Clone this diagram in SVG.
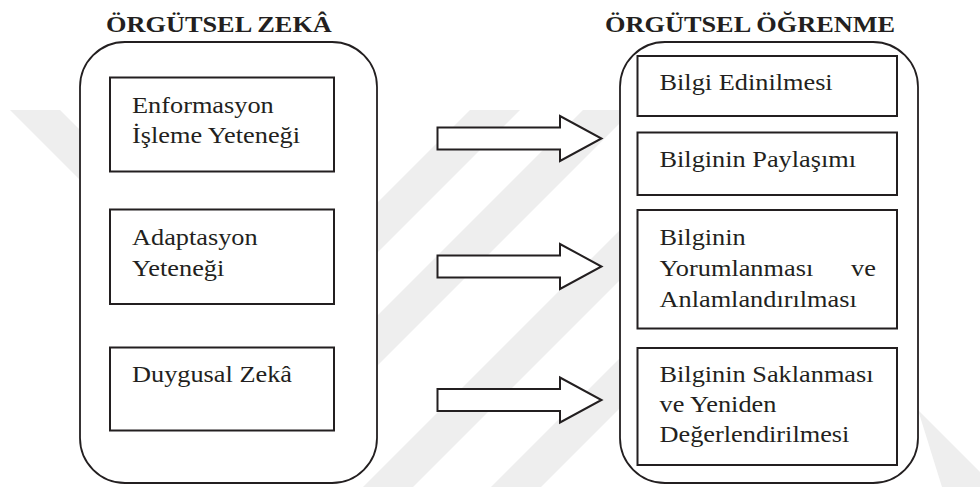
<svg xmlns="http://www.w3.org/2000/svg" width="980" height="487" viewBox="0 0 980 487">
<style>
.wm{fill:#eeeeee;stroke:none}
.cont{fill:#ffffff;stroke:#231f20;stroke-width:1.8}
.box{fill:#ffffff;stroke:#231f20;stroke-width:2}
.arrow{fill:#ffffff;stroke:#231f20;stroke-width:2;stroke-linejoin:miter}
text{font-family:'Liberation Serif','Times New Roman',Times,serif;font-size:22.5px;fill:#231f20}
.h{font-weight:bold}
</style>
<rect width="980" height="487" fill="#ffffff"/>
<g id="watermark">
<polygon class="wm" points="10,110 60,110 80,130 80,180"/>
<polygon class="wm" points="470,110 520,110 360,270 310,270"/>
<polygon class="wm" points="583,110 633,110 376,367 326,367"/>
<polygon class="wm" points="740,110 790,110 400,500 350,500"/>
<polygon class="wm" points="868,110 918,110 541,487 491,487"/>
<polygon class="wm" points="918,410 980,472 980,487 942,487"/>
</g>
<g id="title-left"><text class="h" font-family="Liberation Serif, serif" transform="translate(106 32) scale(1.17 1)">ÖRGÜTSEL ZEKÂ</text></g>
<g id="title-right"><text class="h" font-family="Liberation Serif, serif" transform="translate(605 32) scale(1.17 1)">ÖRGÜTSEL ÖĞRENME</text></g>
<g id="container-left"><rect class="cont" x="80" y="42" width="297" height="441" rx="45" ry="45"/></g>
<g id="container-right"><rect class="cont" x="620" y="42" width="298" height="441" rx="45" ry="45"/></g>
<g id="node-enformasyon">
<rect class="box" x="110" y="77.5" width="224" height="94"/>
<text transform="translate(132 113) scale(1.17 1)">Enformasyon</text>
<text transform="translate(132 143) scale(1.17 1)">İşleme Yeteneği</text>
</g>
<g id="node-adaptasyon">
<rect class="box" x="110" y="209.5" width="224" height="94.5"/>
<text transform="translate(132 245) scale(1.17 1)">Adaptasyon</text>
<text transform="translate(132 276) scale(1.17 1)">Yeteneği</text>
</g>
<g id="node-duygusal">
<rect class="box" x="110" y="347.5" width="224" height="83"/>
<text transform="translate(132 382) scale(1.17 1)">Duygusal Zekâ</text>
</g>
<g id="node-edinme">
<rect class="box" x="637.5" y="56" width="259.5" height="60"/>
<text transform="translate(659.5 90) scale(1.17 1)">Bilgi Edinilmesi</text>
</g>
<g id="node-paylasim">
<rect class="box" x="637.5" y="132.5" width="259.5" height="62.5"/>
<text transform="translate(659.5 166.5) scale(1.17 1)">Bilginin Paylaşımı</text>
</g>
<g id="node-yorumlama">
<rect class="box" x="637.5" y="210" width="259.5" height="118.5"/>
<text transform="translate(659.5 245) scale(1.17 1)">Bilginin</text>
<text transform="translate(659.5 276) scale(1.17 1)">Yorumlanması<tspan x="163.7">ve</tspan></text>
<text transform="translate(659.5 306.5) scale(1.17 1)">Anlamlandırılması</text>
</g>
<g id="node-saklama">
<rect class="box" x="637.5" y="348" width="259.5" height="117"/>
<text transform="translate(659.5 381.5) scale(1.17 1)">Bilginin Saklanması</text>
<text transform="translate(659.5 411.5) scale(1.17 1)">ve Yeniden</text>
<text transform="translate(659.5 441.5) scale(1.17 1)">Değerlendirilmesi</text>
</g>
<g id="connectors">
<polygon class="arrow" points="437.5,127.5 560,127.5 560,116 601.5,138.5 560,161 560,149.5 437.5,149.5"/>
<polygon class="arrow" points="437.5,255.5 560,255.5 560,244 601.5,266.5 560,289 560,277.5 437.5,277.5"/>
<polygon class="arrow" points="437.5,389 560,389 560,377.5 601.5,400 560,422.5 560,411 437.5,411"/>
</g>
</svg>
